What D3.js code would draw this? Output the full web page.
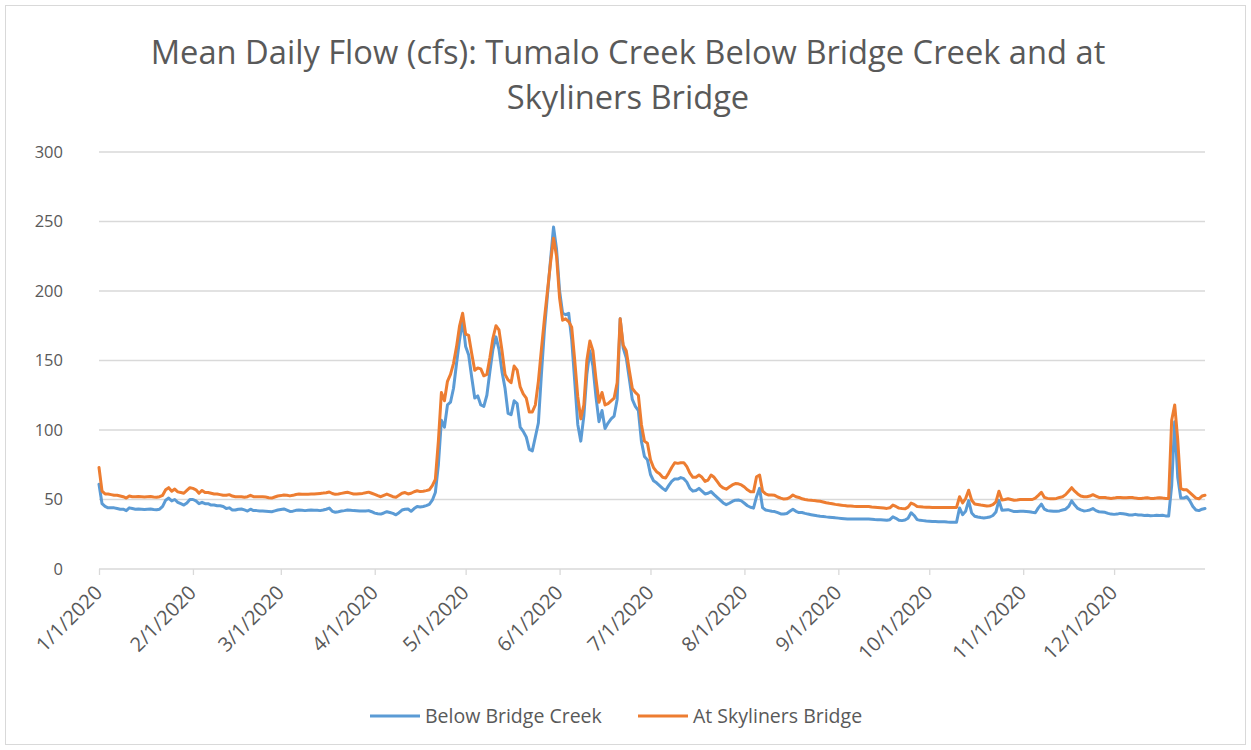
<!DOCTYPE html>
<html>
<head>
<meta charset="utf-8">
<script src="https://d3js.org/d3.v7.min.js"></script>
<style>
    body { margin: 0; background: #fff; }
    svg text { font-family: "Open Sans", "Noto Sans", sans-serif; fill: #595959; }
</style>
</head>
<body>
<svg id="flow-svg"></svg>
<script>
// mean daily flow, cfs, one row per month of 2020
const belowBridgeCreek = [
    // jan
    [61, 47, 45, 44, 44, 44, 43.5, 43, 43, 42, 44, 43.5, 43, 43.2, 43, 42.8, 43, 43.2, 42.8, 42.6, 43, 45, 49.5, 51, 49, 50, 48, 47, 46, 47.5, 50],
    // feb
    [50, 49, 47, 48, 47, 47, 46, 46, 45.5, 45.5, 45, 43.5, 44, 42.5, 42.4, 43, 43.2, 42.5, 41.7, 43, 42, 42, 41.8, 41.7, 41.6, 41.4, 41.2, 41.8, 42.4],
    // mar
    [42.8, 43.2, 42.3, 41.4, 41.6, 42.2, 42.4, 42.2, 42, 42.2, 42.4, 42.3, 42.2, 42, 42.4, 43, 43.8, 41.5, 40.8, 41.2, 41.7, 42, 42.4, 42.2, 42, 41.9, 41.8, 41.7, 41.8, 42, 41.2],
    // apr
    [40.2, 39.8, 39.5, 40.3, 41.2, 40.6, 40, 39, 40.5, 42.4, 43, 43.2, 41.5, 43.5, 45, 44.6, 45, 45.6, 46.5, 49.5, 55, 75, 107, 102, 118, 120, 130, 148, 165, 179],
    // may
    [160, 154, 138, 123, 124.5, 118, 117, 125, 142, 158, 167, 158, 142, 130, 112, 111, 121, 119, 102, 99, 95, 86, 85, 95, 105, 140, 172, 197, 222, 246, 230],
    // jun
    [200, 184, 183, 184, 165, 135, 104, 92, 110, 140, 157, 146, 124, 106, 114, 101, 105, 108, 110, 122, 180, 159, 152, 137, 122, 117, 114, 92, 81, 78.5],
    // jul
    [68, 63.5, 62, 60, 58, 56.5, 60, 63, 64.8, 64.7, 65.8, 65, 62.5, 58, 56, 56.5, 58, 56, 54, 54.5, 55.7, 53.5, 51.5, 49.5, 47.5, 46.3, 47.3, 48.6, 49.5, 49.6, 49],
    // aug
    [47.3, 45.5, 44.4, 43.8, 52, 58, 44, 42.5, 42, 41.5, 41.3, 40.5, 39.6, 39.6, 40, 41.5, 43, 41.5, 40.6, 40.6, 40, 39.5, 39.1, 38.7, 38.3, 38, 37.8, 37.5, 37.3, 37.1, 36.8],
    // sep
    [36.6, 36.4, 36.2, 36, 36, 36, 35.9, 36, 35.9, 35.9, 36, 35.8, 35.6, 35.5, 35.4, 35.3, 35.1, 35.5, 37.5, 36.5, 35, 34.8, 35.2, 36.5, 40.5, 38.5, 35.5, 35, 34.8, 34.5],
    // oct
    [34.3, 34.1, 34.1, 34, 34, 34, 33.8, 33.7, 33.6, 33.6, 43.9, 39.1, 41.5, 49.2, 40.3, 38, 37.4, 37, 36.7, 37, 37.4, 38.5, 41, 49.4, 42.3, 42.5, 42.7, 42, 41.3, 41.4, 41.6],
    // nov
    [41.6, 41.4, 41.2, 40.8, 40.5, 44, 46.7, 43, 42, 41.8, 41.6, 41.5, 41.8, 42.4, 43, 45, 49, 46, 43.6, 42.5, 41.8, 42, 42.5, 43.5, 42, 41.2, 41, 40.8, 40, 39.5],
    // dec
    [39.3, 39.5, 40, 39.8, 39.4, 38.8, 38.8, 39.3, 38.8, 38.8, 38.5, 38.7, 38.3, 38.4, 38.6, 38.5, 38.7, 38.2, 38.1, 60, 106, 66, 51, 51, 52, 49, 45, 42.5, 42, 43, 43.5]
];

const atSkylinersBridge = [
    // jan
    [73, 56, 54, 54, 53.5, 53, 53, 52.5, 52, 51, 52.5, 52, 52, 52.2, 52, 51.8, 52, 52.2, 51.8, 51.6, 52, 53, 57, 58.5, 56, 57.5, 55.5, 55, 54.5, 56.5, 58.5],
    // feb
    [58, 57, 54.5, 56.5, 55, 55, 54.5, 54, 54, 53.5, 53, 53, 53.5, 52.5, 52, 52, 52, 51.6, 52, 53, 52, 52, 52, 52, 51.8, 51.3, 51, 51.8, 52.5],
    // mar
    [52.8, 53.2, 53, 52.6, 53, 53.6, 53.9, 53.8, 53.7, 53.8, 53.9, 54, 54.2, 54.4, 54.6, 54.9, 55.4, 54.3, 53.7, 54, 54.4, 54.8, 55.2, 54.6, 54, 53.9, 54.2, 54.4, 54.8, 55.3, 54.5],
    // apr
    [53.7, 52.8, 52, 53, 53.9, 53, 52, 51.6, 53, 54.5, 55, 54, 54.5, 55.6, 56.3, 55.7, 56, 56.4, 57, 60, 64.5, 92, 127, 121, 135, 140, 148, 160, 175, 184],
    // may
    [169, 168, 155, 143, 144.6, 144, 139, 140, 152, 166, 175, 172, 157, 140, 136, 134, 146, 143, 131, 126, 123, 113, 113, 118, 135, 158, 180, 200, 220, 238, 225],
    // jun
    [195, 179, 180, 178, 174, 150, 124, 108, 118, 150, 164, 157, 137, 120, 127, 118, 119, 121, 123, 134, 180, 161, 157, 143, 130, 127, 125, 104, 92, 90.5],
    // jul
    [78.5, 73, 70, 68.5, 66, 65.5, 69, 73, 76.4, 76, 76.5, 76.5, 73.6, 69, 66, 66, 67.6, 66, 63, 64, 67.6, 66, 63, 60, 58.3, 57.4, 59, 60.5, 61.5, 61.3, 60.5],
    // aug
    [59, 57, 55.6, 55.5, 66.4, 67.6, 56, 54, 53.2, 53.2, 53, 51.8, 51, 50.3, 50.5, 51.5, 53.2, 52, 51.5, 50.5, 50, 49.7, 49.5, 49.2, 49, 48.7, 48.2, 47.7, 47.3, 47, 46.5],
    // sep
    [46.2, 45.9, 45.6, 45.4, 45.3, 45.1, 45, 44.9, 44.9, 44.9, 45, 44.6, 44.4, 44.2, 44, 43.8, 43.6, 44, 46, 45, 43.8, 43.5, 43.3, 44.5, 47.4, 46.5, 45, 44.8, 44.6, 44.5],
    // oct
    [44.4, 44.3, 44.3, 44.3, 44.3, 44.3, 44.3, 44.3, 44.3, 44.3, 52, 47.6, 50.7, 56.7, 49.5, 46.8, 46.4, 46, 45.7, 45.3, 45.5, 46.3, 48.3, 56, 49.7, 50, 50.5, 50, 49.5, 49.7, 50],
    // nov
    [50, 50, 50, 50, 51, 53, 55.2, 51.5, 50.8, 50.5, 50.6, 50.8, 51.5, 52, 53.5, 56, 58.5, 56, 54, 52.5, 52, 52, 52.5, 53.5, 52.5, 51.5, 51.5, 51.5, 51, 50.8],
    // dec
    [51, 51.5, 51.5, 51.3, 51.3, 51.5, 51.5, 51, 50.8, 50.8, 51, 51.3, 50.8, 50.8, 51, 51.3, 51, 50.8, 50.8, 107, 118, 93, 58, 57, 57, 55, 53, 51, 50.5, 52.5, 53]
];

const seriesNames = ["Below Bridge Creek", "At Skyliners Bridge"];
const seriesColors = ["#5B9BD5", "#ED7D31"];
const yTicks = [0, 50, 100, 150, 200, 250, 300];
const titleLines = ["Mean Daily Flow (cfs): Tumalo Creek Below Bridge Creek and at", "Skyliners Bridge"];

class FlowChart {
    constructor(svgId) {
        this.svgId = svgId;
        this.width = 1251;
        this.height = 750;
        this.initVis();
    }

    initVis() {
        let vis = this;

        vis.svg = d3.select(vis.svgId)
            .attr("width", vis.width)
            .attr("height", vis.height);

        // chart frame
        vis.svg.append("rect")
            .attr("x", 5.5).attr("y", 5.5)
            .attr("width", 1240).attr("height", 739)
            .attr("fill", "#fff")
            .attr("stroke", "#d9d9d9");

        vis.x = d3.scaleTime()
            .domain([new Date(2020, 0, 1), new Date(2020, 11, 31)])
            .range([99, 1205]);

        vis.y = d3.scaleLinear()
            .domain([0, 300])
            .range([569, 152]);

        vis.wrangleData();
    }

    wrangleData() {
        let vis = this;

        // flatten monthly rows into dated points
        vis.series = [belowBridgeCreek, atSkylinersBridge].map((rows, s) => {
            let points = [];
            rows.forEach((row, m) => {
                row.forEach((v, d) => {
                    points.push({ date: new Date(2020, m, d + 1), value: v });
                });
            });
            return { name: seriesNames[s], color: seriesColors[s], points: points };
        });

        vis.updateVis();
    }

    updateVis() {
        let vis = this;

        // gridlines
        vis.svg.append("g")
            .selectAll("line")
            .data(yTicks.filter(t => t > 0))
            .join("line")
            .attr("x1", 99).attr("x2", 1205)
            .attr("y1", d => vis.y(d)).attr("y2", d => vis.y(d))
            .attr("stroke", "#d9d9d9")
            .attr("stroke-width", 1.3);

        // y labels
        vis.svg.append("g")
            .selectAll("text")
            .data(yTicks)
            .join("text")
            .attr("x", 63)
            .attr("y", d => vis.y(d))
            .attr("dy", "0.35em")
            .attr("text-anchor", "end")
            .style("font-size", "16.5px")
            .text(d => d);

        // x axis
        let months = d3.timeMonth.range(new Date(2020, 0, 1), new Date(2021, 0, 1));
        let xAxis = d3.axisBottom(vis.x)
            .tickValues(months)
            .tickSize(6)
            .tickFormat(d3.timeFormat("%-m/%-d/%Y"));

        let axisG = vis.svg.append("g")
            .attr("transform", "translate(0,569)")
            .call(xAxis);

        axisG.select(".domain").attr("stroke", "#d9d9d9").attr("stroke-width", 1.3)
            .attr("d", "M99,0H1205");
        axisG.selectAll(".tick line").attr("stroke", "#d9d9d9").attr("stroke-width", 1.3);
        axisG.selectAll(".tick text")
            .attr("text-anchor", "end")
            .attr("fill", "#595959")
            .style("font-size", "20px")
            .attr("x", 0).attr("y", 0).attr("dy", 0)
            .attr("transform", "translate(4,25) rotate(-45)");

        // lines
        let line = d3.line()
            .x(d => vis.x(d.date))
            .y(d => vis.y(d.value));

        vis.svg.append("g")
            .selectAll("path")
            .data(vis.series)
            .join("path")
            .attr("d", d => line(d.points))
            .attr("fill", "none")
            .attr("stroke", d => d.color)
            .attr("stroke-width", 3)
            .attr("stroke-linejoin", "round")
            .attr("stroke-linecap", "round");

        // title, sized to the reference width
        let title = vis.svg.append("g").attr("class", "title");
        let t1 = title.append("text")
            .attr("x", 628).attr("y", 64)
            .attr("text-anchor", "middle")
            .style("font-size", "30px")
            .text(titleLines[0]);
        let fs = 30 * 955 / t1.node().getComputedTextLength();
        t1.style("font-size", fs + "px");
        title.append("text")
            .attr("x", 628).attr("y", 109)
            .attr("text-anchor", "middle")
            .style("font-size", fs + "px")
            .text(titleLines[1]);

        // legend
        let legendX = [370, 638];
        let legend = vis.svg.append("g")
            .selectAll("g")
            .data(vis.series)
            .join("g")
            .attr("transform", (d, i) => `translate(${legendX[i]},716)`);

        legend.append("line")
            .attr("x1", 0).attr("x2", 50)
            .attr("stroke", d => d.color)
            .attr("stroke-width", 3);

        legend.append("text")
            .attr("x", 55)
            .attr("dy", "0.35em")
            .style("font-size", "19.5px")
            .text(d => d.name);
    }
}

new FlowChart("#flow-svg");
</script>
</body>
</html>
